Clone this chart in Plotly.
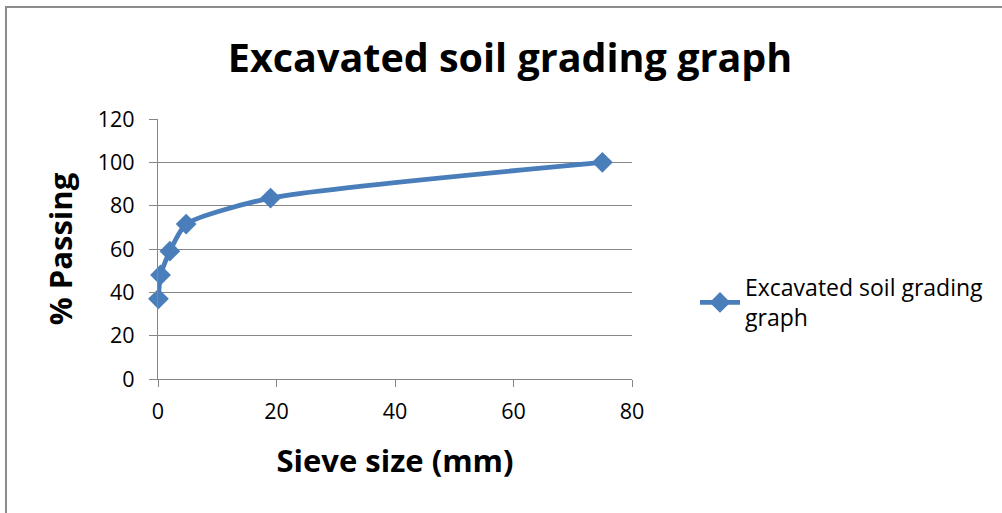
import plotly.graph_objects as go

sieve_size_mm = [0.075, 0.425, 2.0, 4.75, 19.0, 75.0]
percent_passing = [37, 48, 59, 71.5, 83.5, 100]
series_name = "Excavated soil grading<br>graph"
chart_title = "Excavated soil grading graph"
x_ticks = [0, 20, 40, 60, 80]
y_ticks = [0, 20, 40, 60, 80, 100, 120]

W, H = 1002, 513
L, R, T, B = 158, 370, 119, 134
pw, ph = W - L - R, H - T - B

FONT = "Open Sans"
BLUE = "#4A7EBB"
GRID = "#868686"

fig = go.Figure()
fig.add_trace(go.Scatter(
    x=sieve_size_mm, y=percent_passing, mode="lines+markers",
    name=series_name, cliponaxis=False,
    line=dict(color=BLUE, width=4.8, shape="spline", smoothing=0.6),
    marker=dict(symbol="diamond", size=16, color=BLUE),
))

fig.update_layout(
    width=W, height=H,
    margin=dict(l=L, r=R, t=T, b=B, autoexpand=False),
    paper_bgcolor="white", plot_bgcolor="white",
    font=dict(family=FONT, color="black", size=21),
    title=dict(text="<b>" + chart_title + "</b>", x=(510 - L) / pw, xref="paper",
               xanchor="center", y=1 - 58 / H, yanchor="middle",
               font=dict(family=FONT, size=39.5, color="black")),
    showlegend=True,
    legend=dict(x=(695 - L) / pw, y=(379 - 266) / ph, xanchor="left", yanchor="top",
                font=dict(family=FONT, size=23, color="black"),
                bgcolor="rgba(0,0,0,0)", itemwidth=40, tracegroupgap=0),
    xaxis=dict(range=[0, 80], tickvals=x_ticks, showgrid=False, zeroline=False,
               showline=True, linecolor=GRID, linewidth=1.3,
               ticks="outside", ticklen=7, tickcolor=GRID, tickwidth=1.3,
               ticklabelstandoff=6,
               tickfont=dict(size=21.5, family=FONT),
               title=dict(text="<b>Sieve size (mm)</b>", font=dict(size=31, family=FONT), standoff=26)),
    yaxis=dict(range=[0, 120], tickvals=y_ticks, showgrid=True, gridcolor=GRID, gridwidth=1.3,
               zeroline=False, showline=True, linecolor=GRID, linewidth=1.3,
               ticks="outside", ticklen=8, tickcolor=GRID, tickwidth=1.3,
               ticklabelstandoff=10,
               tickfont=dict(size=21.5, family=FONT),
               title=dict(text="<b>% Passing</b>", font=dict(size=31, family=FONT), standoff=15)),
)

# outer chart border (Excel chart area frame)
fig.add_shape(type="rect", xref="paper", yref="paper",
              x0=(6 - L) / pw, x1=(W + 20 - L) / pw,
              y0=-(H + 20 - (T + ph)) / ph, y1=(T + ph - 7) / ph,
              line=dict(color="#8C8C8C", width=2), fillcolor="rgba(0,0,0,0)", layer="below")

fig.write_html("out.html")
